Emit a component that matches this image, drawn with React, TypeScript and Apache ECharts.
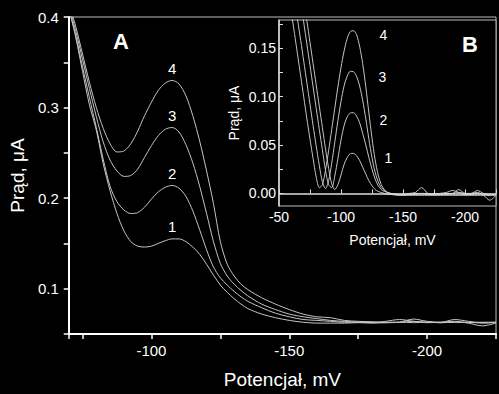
import React, { useEffect, useRef } from "react";
import * as echarts from "echarts";

// ---------- Main chart (A) ----------
const potentialA = [
  -70, -72.5, -75, -77.5, -80, -82.5, -85, -87.5, -90, -92.5, -95, -97.5, -100, -102.5, -105, -107.5,
  -110, -112.5, -115, -117.5, -120, -122.5, -125, -127.5, -130, -132.5, -135,
  -140, -145, -150, -155, -160, -165, -170, -175, -180, -185, -190, -195, -200, -205, -210, -215, -220, -225,
];
const currentA1 = [
  0.41, 0.378, 0.34, 0.303, 0.275, 0.238, 0.208, 0.183, 0.164, 0.152, 0.147, 0.146, 0.147, 0.15, 0.153, 0.155,
  0.155, 0.152, 0.146, 0.138, 0.127, 0.115, 0.104, 0.096, 0.089, 0.083, 0.078,
  0.072, 0.068, 0.065, 0.063, 0.062, 0.062, 0.062, 0.0625, 0.062, 0.0625, 0.063, 0.0625, 0.063, 0.0625, 0.063, 0.0625, 0.063, 0.063,
];
const currentA2 = [
  0.41, 0.38, 0.345, 0.311, 0.278, 0.243, 0.213, 0.196, 0.187, 0.183, 0.184, 0.19, 0.199, 0.207, 0.212, 0.214,
  0.211, 0.202, 0.186, 0.165, 0.143, 0.124, 0.112, 0.104, 0.097, 0.091, 0.086,
  0.079, 0.073, 0.069, 0.066, 0.065, 0.064, 0.063, 0.063, 0.0625, 0.064, 0.066, 0.064, 0.0625, 0.063, 0.064, 0.062, 0.059, 0.062,
];
const currentA3 = [
  0.412, 0.385, 0.353, 0.321, 0.29, 0.262, 0.242, 0.23, 0.224, 0.225, 0.232, 0.245, 0.258, 0.269, 0.276, 0.278,
  0.273, 0.259, 0.239, 0.213, 0.183, 0.152, 0.128, 0.114, 0.105, 0.098, 0.092,
  0.083, 0.077, 0.072, 0.069, 0.067, 0.065, 0.064, 0.063, 0.063, 0.0625, 0.063, 0.0665, 0.064, 0.063, 0.066, 0.064, 0.0625, 0.063,
];
const currentA4 = [
  0.415, 0.39, 0.359, 0.328, 0.3, 0.277, 0.26, 0.251, 0.252, 0.26, 0.274, 0.291, 0.306, 0.319, 0.327, 0.33,
  0.326, 0.313, 0.291, 0.263, 0.23, 0.194, 0.152, 0.127, 0.114, 0.105, 0.099,
  0.09, 0.083, 0.077, 0.072, 0.069, 0.068, 0.065, 0.064, 0.0635, 0.063, 0.063, 0.064, 0.063, 0.0625, 0.063, 0.063, 0.062, 0.0625,
];
const peakPotentialA = -107.5;
const peakCurrentA = [0.155, 0.214, 0.278, 0.33];

// ---------- Inset chart (B) ----------
const potentialB = [
  -50, -55,
  -60, -62.5, -65, -67.5, -70, -72.5, -75, -77.5, -80, -82.5, -85, -87.5, -90, -92.5, -95, -97.5, -100,
  -102.5, -105, -107.5, -110, -112.5, -115, -117.5, -120, -122.5, -125, -127.5, -130, -132.5, -135, -137.5, -140,
  -145, -150, -155, -160, -165, -170, -175, -180, -185, -190, -195, -200, -205, -210, -215, -220, -225,
];
const currentB1 = [
  0.36, 0.32,
  0.28, 0.261, 0.241, 0.22, 0.199, 0.178, 0.156, 0.134, 0.112, 0.09, 0.068, 0.046, 0.026, 0.01, 0.004, 0.009, 0.019,
  0.03, 0.037, 0.041, 0.0413, 0.039, 0.034, 0.027, 0.02, 0.013, 0.008, 0.004, 0.002, 0.001, 0.0, -0.001, -0.001,
  -0.002, -0.002, -0.002, -0.002, -0.002, -0.002, -0.002, -0.002, -0.002, -0.002, -0.002, -0.002, -0.002, -0.002, -0.002, -0.002, -0.002,
];
const currentB2 = [
  0.34, 0.3,
  0.26, 0.24, 0.219, 0.198, 0.176, 0.154, 0.132, 0.11, 0.088, 0.066, 0.045, 0.024, 0.009, 0.006, 0.018, 0.036, 0.055,
  0.07, 0.079, 0.083, 0.0833, 0.08, 0.073, 0.062, 0.05, 0.037, 0.025, 0.015, 0.008, 0.004, 0.002, 0.001, 0.0,
  -0.001, -0.002, -0.001, -0.001, 0.0, 0.0, -0.001, 0.0, 0.001, 0.003, 0.001, -0.001, 0.0, 0.001, -0.002, -0.007, -0.002,
];
const currentB3 = [
  0.3, 0.26,
  0.222, 0.2, 0.179, 0.158, 0.136, 0.114, 0.092, 0.07, 0.049, 0.029, 0.012, 0.005, 0.013, 0.031, 0.053, 0.075, 0.095,
  0.111, 0.121, 0.126, 0.1256, 0.121, 0.111, 0.096, 0.077, 0.056, 0.037, 0.022, 0.012, 0.006, 0.003, 0.001, 0.0,
  -0.001, -0.001, -0.001, 0.0, 0.0, -0.001, 0.0, -0.001, 0.0, 0.0, 0.004, 0.0, 0.0, 0.003, 0.0, -0.001, -0.001,
];
const currentB4 = [
  0.27, 0.228,
  0.186, 0.165, 0.143, 0.121, 0.099, 0.077, 0.056, 0.036, 0.017, 0.006, 0.009, 0.024, 0.044, 0.066, 0.088, 0.11, 0.13,
  0.147, 0.16, 0.167, 0.168, 0.164, 0.152, 0.134, 0.11, 0.083, 0.057, 0.035, 0.019, 0.009, 0.004, 0.001, 0.0,
  -0.001, -0.001, 0.0, 0.001, 0.006, 0.0, -0.001, 0.0, -0.001, 0.0, 0.001, 0.0, -0.001, 0.0, -0.001, -0.002, -0.002,
];
const peakPotentialB = -110;
const peakCurrentB = [0.0413, 0.0833, 0.1256, 0.168];
const insetYTicks = [0, 0.025, 0.05, 0.075, 0.1, 0.125, 0.15, 0.175];
const insetYLabels = [0, 0.05, 0.1, 0.15];
const curveNames = ["1", "2", "3", "4"];

const FONT = "Liberation Sans, Arial, Helvetica, sans-serif";
const LINE = "#c4c4c4";
const WHITE = "#ffffff";

const zip = (xs: number[], ys: number[]) => xs.map((x, i) => [x, ys[i]]);

export default function App() {
  const ref = useRef<HTMLDivElement>(null);

  useEffect(() => {
    document.body.style.margin = "0";
    document.body.style.background = "#000";
    const chart = echarts.init(ref.current!, null, { renderer: "svg" });

    const mainSeries = [currentA1, currentA2, currentA3, currentA4].map((ys, i) => ({
      type: "line",
      name: "A" + curveNames[i],
      xAxisIndex: 0,
      yAxisIndex: 0,
      data: zip(potentialA, ys),
      showSymbol: false,
      symbol: "none",
      smooth: 0.3,
      lineStyle: { color: LINE, width: 1 },
      z: 3,
      markPoint: {
        symbol: "circle",
        symbolSize: 1,
        itemStyle: { color: "rgba(0,0,0,0)" },
        label: {
          show: true,
          position: "top",
          distance: 4,
          color: WHITE,
          fontSize: 15,
          fontFamily: FONT,
          formatter: () => curveNames[i],
        },
        data: [{ coord: [peakPotentialA, peakCurrentA[i]] }],
      },
    }));

    const insetOffsets = [
      [35, 5],
      [30, 7],
      [29, 5],
      [30, 4],
    ];
    const insetSeries = [currentB1, currentB2, currentB3, currentB4].map((ys, i) => ({
      type: "line",
      name: "B" + curveNames[i],
      xAxisIndex: 1,
      yAxisIndex: 1,
      data: zip(potentialB, ys),
      showSymbol: false,
      symbol: "none",
      smooth: 0.3,
      lineStyle: { color: LINE, width: 1 },
      z: 5,
      markPoint: {
        symbol: "circle",
        symbolSize: 1,
        itemStyle: { color: "rgba(0,0,0,0)" },
        label: {
          show: true,
          position: "inside",
          offset: insetOffsets[i],
          color: WHITE,
          fontSize: 14,
          fontFamily: FONT,
          formatter: () => curveNames[i],
        },
        data: [{ coord: [peakPotentialB, peakCurrentB[i]] }],
      },
    }));

    const option: any = {
      animation: false,
      backgroundColor: "#000",
      textStyle: { fontFamily: FONT },
      grid: [
        {
          left: 68,
          right: 1,
          top: 17,
          bottom: 56,
          show: true,
          borderColor: "#bdbdbd",
          borderWidth: 1,
          backgroundColor: "rgba(0,0,0,0)",
          z: 0,
        },
        {
          left: 279,
          top: 20,
          width: 217,
          height: 186,
          show: true,
          borderColor: "#bdbdbd",
          borderWidth: 1,
          backgroundColor: "#000",
          z: 4,
        },
      ],
      xAxis: [
        {
          type: "value",
          gridIndex: 0,
          min: -225,
          max: -70,
          inverse: true,
          interval: 25,
          axisLine: { lineStyle: { color: WHITE, width: 2 } },
          axisTick: { length: 5, lineStyle: { color: WHITE, width: 1.5 } },
          axisLabel: {
            color: WHITE,
            fontSize: 15,
            margin: 9,
            fontFamily: FONT,
            formatter: (v: number) => (Math.round(v) % 50 === 0 ? String(Math.round(v)) : ""),
          },
          splitLine: { show: false },
          name: "Potencjał, mV",
          nameLocation: "middle",
          nameGap: 36,
          nameTextStyle: { color: WHITE, fontSize: 19, fontFamily: FONT },
          z: 3,
        },
        {
          type: "value",
          gridIndex: 1,
          min: -225,
          max: -50,
          inverse: true,
          interval: 25,
          axisLine: { lineStyle: { color: "#dddddd", width: 1.5 } },
          axisTick: { inside: true, length: 4, lineStyle: { color: "#dddddd", width: 1 } },
          axisLabel: {
            color: WHITE,
            fontSize: 14,
            margin: 4,
            fontFamily: FONT,
            formatter: (v: number) => (Math.round(v) % 50 === 0 ? String(Math.round(v)) : ""),
          },
          splitLine: { show: false },
          name: "Potencjał, mV",
          nameLocation: "middle",
          nameGap: 27,
          nameTextStyle: { color: WHITE, fontSize: 14, fontFamily: FONT, padding: [0, 0, 0, 10] },
          z: 6,
        },
      ],
      yAxis: [
        {
          type: "value",
          gridIndex: 0,
          min: 0.05,
          max: 0.4,
          interval: 0.05,
          axisLine: { show: true, lineStyle: { color: WHITE, width: 2 } },
          axisTick: { show: true, length: 5, lineStyle: { color: WHITE, width: 1.5 } },
          axisLabel: {
            color: WHITE,
            fontSize: 15,
            margin: 10,
            fontFamily: FONT,
            formatter: (v: number) =>
              Math.round(v * 100) % 10 === 0 && v > 0.06 ? v.toFixed(1) : "",
          },
          splitLine: { show: false },
          name: "Prąd, μA",
          nameLocation: "middle",
          nameGap: 38,
          nameTextStyle: { color: WHITE, fontSize: 19, fontFamily: FONT },
          z: 3,
        },
        {
          type: "value",
          gridIndex: 1,
          min: -0.013,
          max: 0.179,
          axisLine: { show: true, lineStyle: { color: "#dddddd", width: 1.5 } },
          axisTick: {
            show: true,
            inside: true,
            length: 4,
            customValues: insetYTicks,
            lineStyle: { color: "#dddddd", width: 1 },
          },
          axisLabel: {
            color: WHITE,
            fontSize: 14,
            margin: 3,
            fontFamily: FONT,
            customValues: insetYLabels,
            formatter: (v: number) => v.toFixed(2),
          },
          splitLine: { show: false },
          name: "Prąd, μA",
          nameLocation: "middle",
          nameGap: 38,
          nameTextStyle: { color: WHITE, fontSize: 14, fontFamily: FONT },
          z: 6,
        },
      ],
      graphic: [
        {
          type: "text",
          left: 113,
          top: 30,
          z: 10,
          style: { text: "A", fill: WHITE, font: `bold 22px ${FONT}` },
        },
        {
          type: "text",
          left: 462,
          top: 33,
          z: 10,
          style: { text: "B", fill: WHITE, font: `bold 22px ${FONT}` },
        },
      ],
      series: [...mainSeries, ...insetSeries],
    };

    chart.setOption(option);
    return () => chart.dispose();
  }, []);

  return (
    <div
      ref={ref}
      style={{ position: "fixed", left: 0, top: 0, width: 499, height: 394, background: "#000" }}
    />
  );
}
